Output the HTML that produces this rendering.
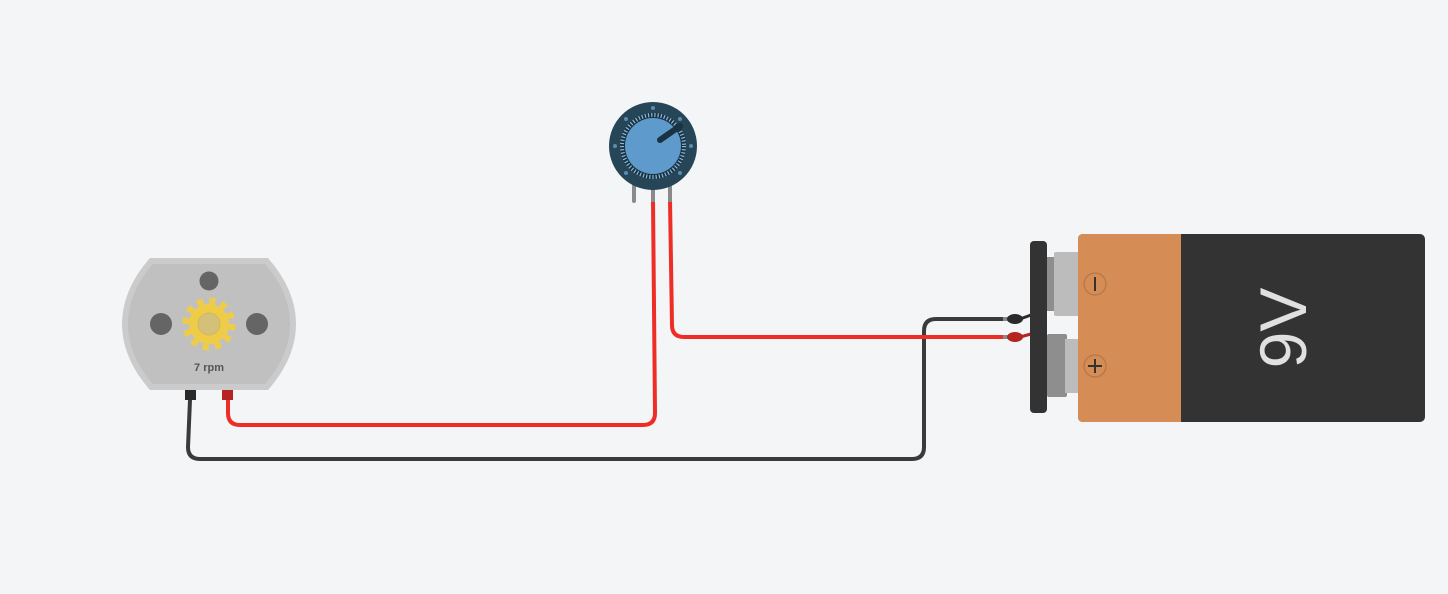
<!DOCTYPE html>
<html><head><style>body{margin:0;background:#f3f5f7;}svg{display:block}</style></head><body>
<svg width="1448" height="594" viewBox="0 0 1448 594" xmlns="http://www.w3.org/2000/svg">
<rect width="1448" height="594" fill="#f3f5f7"/>
<g fill="none" stroke-width="4" stroke-linecap="round">
<path d="M190 400 L188 447 Q188 459 200 459 L912 459 Q924 459 924 447 L924 331 Q924 319 936 319 L1006 319" stroke="#3a3a3a"/>
<path d="M228 400 L228 413 Q228 425 240 425 L643 425 Q655 425 655 413 L653 200" stroke="#ee2d27"/>
<path d="M670 200 L672 325 Q672 337 684 337 L1006 337" stroke="#ee2d27"/>
</g>
<rect x="1003" y="317" width="6" height="4" fill="#888"/>
<ellipse cx="1015" cy="319" rx="8" ry="5" fill="#2a2a2a"/>
<path d="M1020 319 L1031 315" stroke="#2a2a2a" stroke-width="3"/>
<rect x="1003" y="335" width="6" height="4" fill="#888"/>
<ellipse cx="1015" cy="337" rx="8" ry="5" fill="#b52420"/>
<path d="M1020 337 L1031 334" stroke="#b52420" stroke-width="3"/>
<rect x="1047" y="257" width="10" height="54" fill="#8e8e8e"/>
<rect x="1054" y="252" width="28" height="64" rx="2" fill="#bcbcbc"/>
<rect x="1047" y="334" width="20" height="63" rx="2" fill="#8e8e8e"/>
<rect x="1065" y="339" width="17" height="54" fill="#bcbcbc"/>
<rect x="1030" y="241" width="17" height="172" rx="4" fill="#333"/>
<rect x="1078" y="234" width="347" height="188" rx="5" fill="#333"/>
<path d="M1083 234 L1181 234 L1181 422 L1083 422 Q1078 422 1078 417 L1078 239 Q1078 234 1083 234Z" fill="#d68d55"/>
<circle cx="1095" cy="284" r="11" fill="none" stroke="#b87a4a" stroke-width="1.5"/>
<line x1="1095" y1="277" x2="1095" y2="291" stroke="#333" stroke-width="2"/>
<circle cx="1095" cy="366" r="11" fill="none" stroke="#b87a4a" stroke-width="1.5"/>
<line x1="1095" y1="359" x2="1095" y2="373" stroke="#333" stroke-width="2"/>
<line x1="1088" y1="366" x2="1102" y2="366" stroke="#333" stroke-width="2"/>
<text x="0" y="0" transform="translate(1306 328) rotate(-90)" font-family="Liberation Sans, sans-serif" font-size="66" fill="#e0e0e0" text-anchor="middle">9V</text>
<path d="M150 258 L268 258 Q296 290 296 324 Q296 358 268 390 L150 390 Q122 358 122 324 Q122 290 150 258Z" fill="#cbcbcb"/>
<path d="M153 264 L265 264 Q290 292 290 324 Q290 356 265 384 L153 384 Q128 356 128 324 Q128 292 153 264Z" fill="#c0c0c0"/>
<circle cx="209" cy="281" r="9.5" fill="#656565"/>
<circle cx="161" cy="324" r="11" fill="#656565"/>
<circle cx="257" cy="324" r="11" fill="#656565"/>
<circle cx="209" cy="324" r="20" fill="#efcc48"/>
<circle cx="209" cy="324" r="22.5" fill="none" stroke="#efcc48" stroke-width="8" stroke-dasharray="6 5.78"/>
<circle cx="209" cy="324" r="11" fill="#d5c07a" stroke="#cdb866"/>
<text x="209" y="371" font-family="Liberation Sans, sans-serif" font-size="11" font-weight="bold" fill="#555" text-anchor="middle">7 rpm</text>
<rect x="185" y="390" width="11" height="10" fill="#2a2a2a"/>
<rect x="222" y="390" width="11" height="10" fill="#b52420"/>
<rect x="632" y="184" width="4" height="19" rx="2" fill="#8a8a8a"/>
<rect x="651" y="184" width="4" height="18" fill="#8a8a8a"/>
<rect x="668" y="184" width="4" height="18" fill="#8a8a8a"/>
<circle cx="653" cy="146" r="44" fill="#264556"/>
<circle cx="653" cy="146" r="33" fill="#1a3342"/>
<circle cx="653" cy="146" r="31" fill="none" stroke="#8db8dc" stroke-width="4" stroke-dasharray="1.2 2"/>
<circle cx="653" cy="146" r="28" fill="#5e9acb"/>
<line x1="660" y1="140" x2="680" y2="126" stroke="#1a3342" stroke-width="6" stroke-linecap="round"/>
<g fill="#5a8cb0">
<circle cx="653" cy="108" r="2"/><circle cx="680" cy="119" r="2"/><circle cx="691" cy="146" r="2"/><circle cx="680" cy="173" r="2"/><circle cx="626" cy="173" r="2"/><circle cx="615" cy="146" r="2"/><circle cx="626" cy="119" r="2"/>
</g>
</svg>
</body></html>
